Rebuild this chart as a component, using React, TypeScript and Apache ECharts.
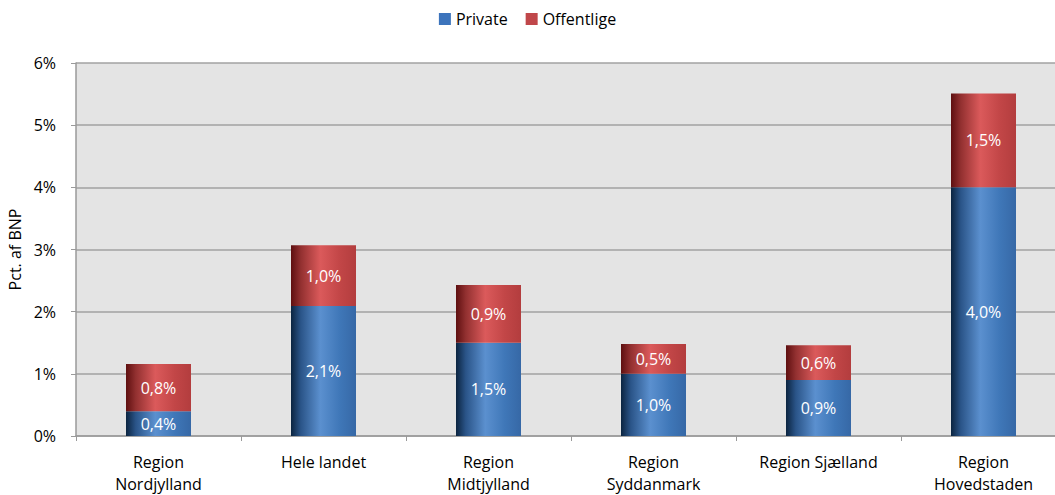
import React, { useEffect, useRef } from "react";
import * as echarts from "echarts";

const categories = [
  "Region\nNordjylland",
  "Hele landet",
  "Region\nMidtjylland",
  "Region\nSyddanmark",
  "Region Sjælland",
  "Region\nHovedstaden",
];
const privateValues = [0.4, 2.09, 1.5, 1.0, 0.9, 4.0];
const offentligeValues = [0.76, 0.98, 0.93, 0.48, 0.56, 1.51];
const seriesNames = ["Private", "Offentlige"];
const yTicks = [0, 1, 2, 3, 4, 5, 6];

const FONT = "'Open Sans', 'Noto Sans', sans-serif";
const FS = 16;

const blueGrad = new echarts.graphic.LinearGradient(0, 0, 1, 0, [
  { offset: 0, color: "#0b2440" },
  { offset: 0.15, color: "#2a5488" },
  { offset: 0.45, color: "#5b90cf" },
  { offset: 0.75, color: "#3f77b8" },
  { offset: 1, color: "#3668a6" },
]);
const redGrad = new echarts.graphic.LinearGradient(0, 0, 1, 0, [
  { offset: 0, color: "#5e0f10" },
  { offset: 0.15, color: "#923030" },
  { offset: 0.45, color: "#db5a5b" },
  { offset: 0.75, color: "#c24647" },
  { offset: 1, color: "#b33d3e" },
]);

const fmt = (p: any) => p.value.toFixed(1).replace(".", ",") + "%";

export default function App() {
  const ref = useRef<HTMLDivElement>(null);
  useEffect(() => {
    document.body.style.margin = "0";
    document.body.style.overflow = "hidden";
    const chart = echarts.init(ref.current!, undefined, { renderer: "svg" });
    chart.setOption({
      animation: false,
      legend: {
        top: 6,
        left: "center",
        itemWidth: 12,
        itemHeight: 12,
        itemGap: 18,
        icon: "rect",
        textStyle: { fontFamily: FONT, fontSize: FS, color: "#000" },
        data: [
          { name: seriesNames[0], itemStyle: { color: "#3c74bc" } },
          { name: seriesNames[1], itemStyle: { color: "#c0474a" } },
        ],
      },
      grid: {
        left: 76,
        top: 63,
        width: 990,
        height: 373,
        show: true,
        backgroundColor: "#e4e4e4",
        borderWidth: 0,
        outerBoundsMode: "none",
        containLabel: false,
      },
      xAxis: {
        type: "category",
        data: categories,
        axisLine: { lineStyle: { color: "#9a9a9a", width: 1.5 } },
        axisTick: { show: true, length: 5, lineStyle: { color: "#9a9a9a" } },
        axisLabel: {
          fontFamily: FONT,
          fontSize: FS,
          color: "#000",
          lineHeight: 22,
          margin: 15,
          interval: 0,
        },
      },
      yAxis: {
        type: "value",
        min: yTicks[0],
        max: yTicks[yTicks.length - 1],
        interval: 1,
        name: "Pct. af BNP",
        nameLocation: "middle",
        nameGap: 50,
        nameTextStyle: { fontFamily: FONT, fontSize: FS, color: "#000" },
        axisLine: { show: true, lineStyle: { color: "#9a9a9a", width: 1.5 } },
        axisTick: { show: true, length: 5, lineStyle: { color: "#9a9a9a" } },
        axisLabel: {
          fontFamily: FONT,
          fontSize: FS,
          color: "#000",
          margin: 20,
          formatter: (v: number) => v + "%",
        },
        splitLine: { lineStyle: { color: "#a2a2a2", width: 1.5 } },
      },
      series: [
        {
          name: seriesNames[0],
          type: "bar",
          stack: "total",
          barWidth: 65,
          data: privateValues,
          itemStyle: { color: blueGrad },
          label: {
            show: true,
            position: "inside",
            color: "#fff",
            fontFamily: FONT,
            fontSize: FS,
            formatter: fmt,
          },
        },
        {
          name: seriesNames[1],
          type: "bar",
          stack: "total",
          barWidth: 65,
          data: offentligeValues,
          itemStyle: { color: redGrad },
          label: {
            show: true,
            position: "inside",
            color: "#fff",
            fontFamily: FONT,
            fontSize: FS,
            formatter: fmt,
          },
        },
      ],
    });
    return () => chart.dispose();
  }, []);
  return (
    <div
      style={{ position: "fixed", left: 0, top: 0, width: 1055, height: 495, overflow: "hidden", background: "#fff" }}
    >
      <div ref={ref} style={{ width: 1055, height: 495, overflow: "hidden" }} />
    </div>
  );
}
